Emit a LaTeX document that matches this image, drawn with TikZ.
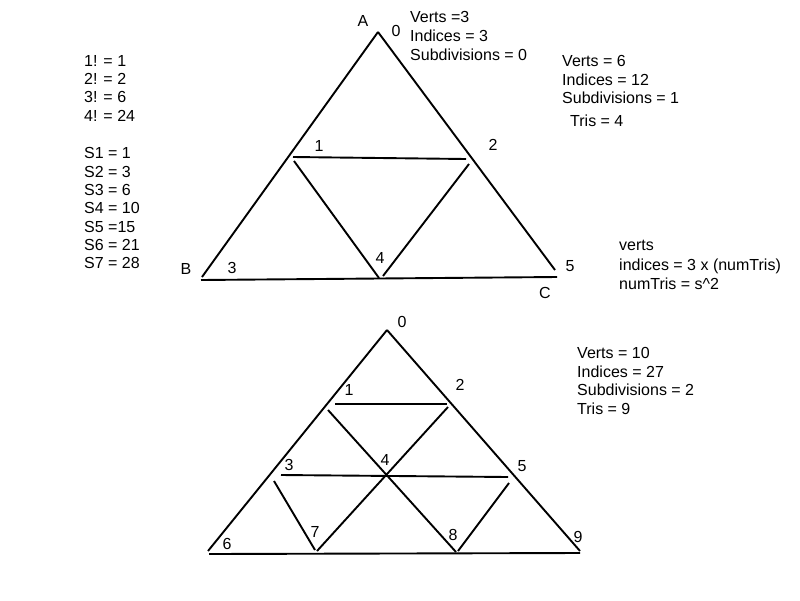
\documentclass[tikz,border=0pt]{standalone}
\usepackage{fontspec}
\setmainfont{Liberation Sans}
\begin{document}
\begin{tikzpicture}[x=1pt, y=-1pt, every node/.style={font=\fontsize{16}{18}\selectfont, inner sep=0pt},
    seg/.style={line width=1.9pt},
    blk/.style={anchor=north west, align=left}]
\useasboundingbox (0,0) rectangle (800,600);
% upper triangle, s = 1
\foreach \n/\x/\y in {A/378/32, B/202/277, C/555/270, Bb/201/280, Cb/557/277,
    1/293/157, 2/466/159, 1d/294/161, 4l/379/278, 4r/383/276, 2d/469/164} {
    \coordinate (t\n) at (\x,\y);
}
\foreach \a/\b in {A/B, A/C, Bb/Cb, 1/2, 1d/4l, 4r/2d} {
    \draw[seg] (t\a)--(t\b);
}
\foreach \n/\x/\y/\lab in {A/363/21/A, B/186/269/B, C/545/293/C, 0/396/31/0, 1/319/146/1,
    2/493/145/2, 3/232/268/3, 4/380/258/4, 5/570/266/5} {
    \node (lt\n) at (\x,\y) {\lab};
}
% lower triangle, s = 2
\foreach \n/\x/\y in {0/387/330, 6/208/551, 9/580/551, 6b/209/554, 9b/580/553,
    1/335/404, 2/447/404, 3/281/475, 5/508/477, 1d/328/410, 8/456/552,
    2d/448/407, 7r/317/551, 3d/274/481, 7l/315/550, 5d/509/483, 8r/458/551} {
    \coordinate (b\n) at (\x,\y);
}
\foreach \a/\b in {0/6, 0/9, 6b/9b, 1/2, 3/5, 1d/8, 2d/7r, 3d/7l, 5d/8r} {
    \draw[seg] (b\a)--(b\b);
}
\foreach \n/\x/\y in {0/402/322, 1/349/390, 2/460/385, 3/289/465, 4/385/460,
    5/522/466, 6/227/544, 7/315/532, 8/453/535, 9/578/537} {
    \node (lb\n) at (\x,\y) {\n};
}
% notes
\node[blk, font=\fontsize{16}{19}\selectfont] (vzero) at (410,11.5) {Verts =3\\Indices = 3\\Subdivisions = 0};
\node[blk, font=\fontsize{16}{18.3}\selectfont] (vone) at (562,55.5) {Verts = 6\\Indices = 12\\Subdivisions = 1};
\node[anchor=west] (trisone) at (570,121) {Tris = 4};
\node[blk, font=\fontsize{16}{18.3}\selectfont] (fact) at (84,55) {1! = 1\\2! = 2\\3! = 6\\4! = 24};
\node[blk, font=\fontsize{16}{18.3}\selectfont] (sums) at (84,147.5) {S1 = 1\\S2 = 3\\S3 = 6\\S4 = 10\\S5 =15\\S6 = 21\\S7 = 28};
\node[blk, font=\fontsize{16}{19.7}\selectfont] (rule) at (619,240) {verts\\indices = 3 x (numTris)\\numTris = s\^{}2};
\node[blk, font=\fontsize{16}{18.4}\selectfont] (vtwo) at (577,347.5) {Verts = 10\\Indices = 27\\Subdivisions = 2\\Tris = 9};
\end{tikzpicture}
\end{document}
